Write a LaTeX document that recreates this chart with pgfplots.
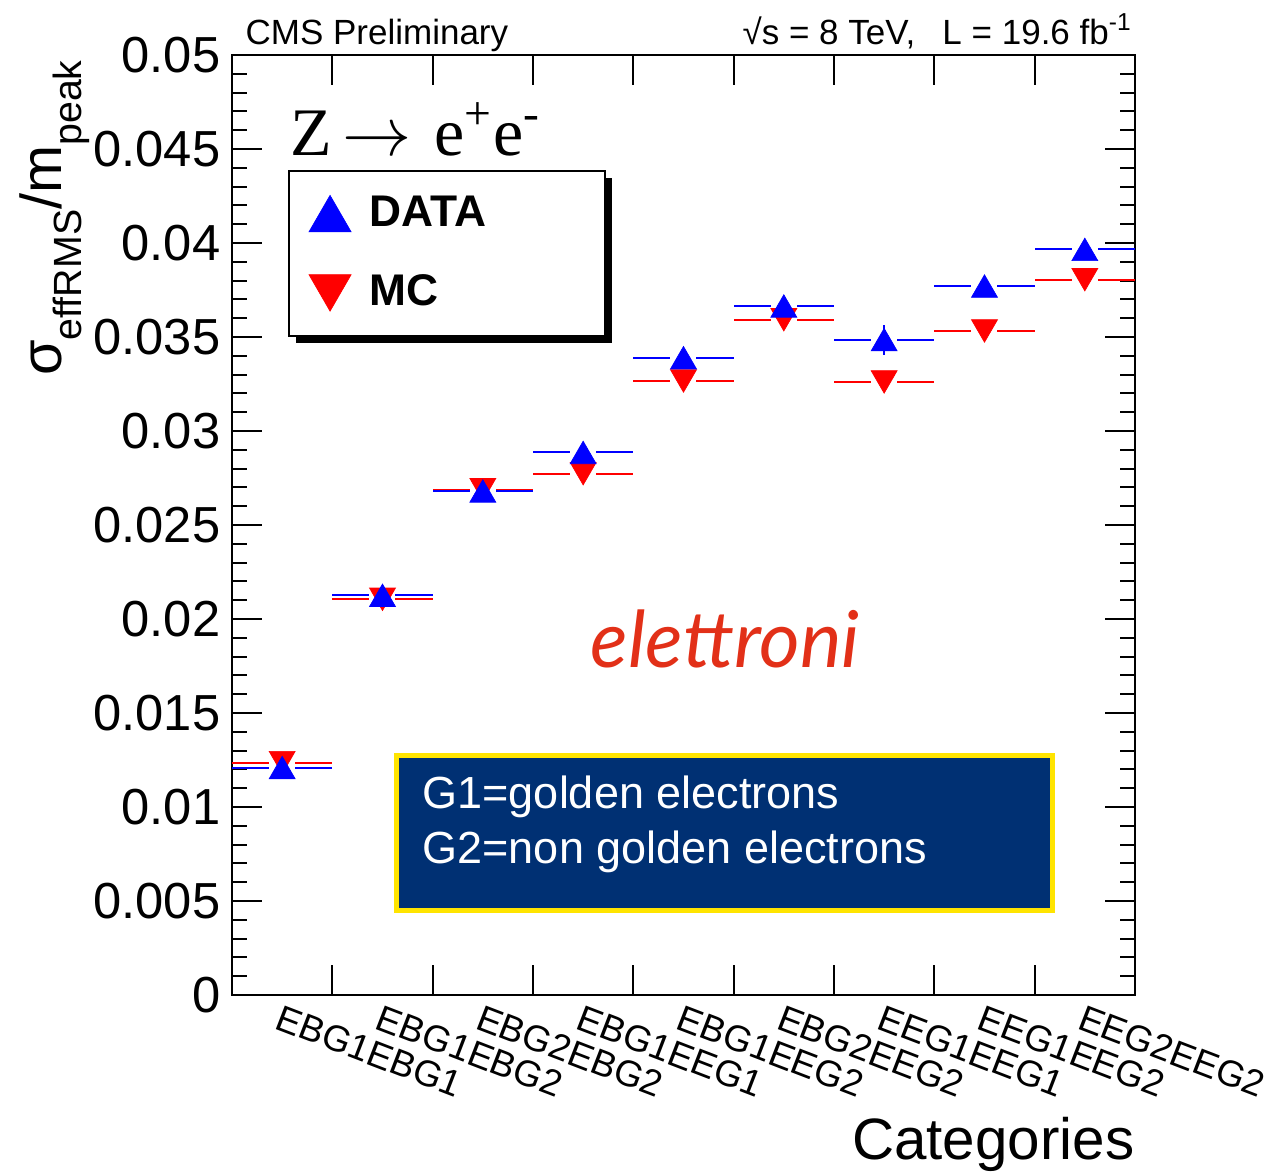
\documentclass[border=0pt]{standalone}
\usepackage{pgfplots}
\pgfplotsset{compat=1.18}
\usepackage{pgfplotstable}
\usetikzlibrary{shadows}
\usepackage{fontspec}
\setmainfont{Liberation Sans}
\newfontfamily\seriffont{Liberation Serif}
\newfontfamily\elfont{Lato}
\definecolor{navybox}{RGB}{0,48,115}
\definecolor{yellowbox}{RGB}{255,228,0}
\definecolor{elred}{RGB}{226,48,24}
\definecolor{dblue}{RGB}{0,0,255}
\definecolor{dred}{RGB}{255,0,0}

\pgfplotstableread{
x data dataerr mc mcerr
0 0.01210 0 0.01236 0
1 0.02126 0 0.02105 0
2 0.02681 0 0.02688 0
3 0.02886 0 0.02773 0
4 0.03390 0 0.03266 0
5 0.03665 0 0.03592 0
6 0.03486 0.0008 0.03261 0
7 0.03771 0 0.03532 0
8 0.03966 0 0.03805 0
}\tab

\begin{document}
\begin{tikzpicture}
\useasboundingbox (-69.6pt,-53.4pt) rectangle (310.5pt,298.5pt);
\begin{axis}[
  scale only axis,
  width=270.9pt, height=282pt,
  at={(0,0)}, anchor=south west,
  xmin=-0.5, xmax=8.5, ymin=0, ymax=0.05,
  clip=false,
  axis line style={line width=0.8pt},
  tick style={line width=0.6pt, black},
  major tick length=9pt, minor tick length=4.5pt,
  xtick={0.5,1.5,...,7.5}, xticklabels={},
  extra x ticks={0,1,2,3,4,5,6,7,8},
  extra x tick labels={EBG1EBG1,EBG1EBG2,EBG2EBG2,EBG1EEG1,EBG1EEG2,EBG2EEG2,EEG1EEG1,EEG1EEG2,EEG2EEG2},
  extra x tick style={major tick length=0pt, tick style={draw=none}},
  x tick label style={font=\fontsize{11}{13}\selectfont, yshift=-2.5pt, rotate=-21, anchor=north west, inner sep=0pt},
  ytick={0,0.005,0.01,0.015,0.02,0.025,0.03,0.035,0.04,0.045,0.05},
  minor y tick num=4,
  scaled y ticks=false,
  y tick label style={font=\fontsize{15.2}{18}\selectfont, /pgf/number format/.cd, fixed, precision=3, assume math mode=true},
  xlabel={Categories},
  xlabel style={at={(axis description cs:1,-0.1755)}, anchor=base east, inner sep=0pt, font=\fontsize{17.5}{20}\selectfont},
  ylabel={σ\raisebox{-0.35em}{\fontsize{11.8}{13}\selectfont effRMS}/m\raisebox{-0.35em}{\fontsize{11.8}{13}\selectfont peak}},
  ylabel style={at={(axis description cs:-0.196,0.995)}, anchor=east, inner sep=0pt, font=\fontsize{17.3}{20}\selectfont},
  legend image code/.code={\draw[#1, mark size=7.3pt, mark repeat=2, mark phase=2] plot coordinates {(0pt,0pt) (10pt,0pt) (20pt,0pt)};},
  legend style={at={(rel axis cs:0.062,0.8777)}, anchor=north west, draw=black, line width=0.6pt, fill=white,
    drop shadow={shadow xshift=2.1pt, shadow yshift=-2.1pt, fill=black, opacity=1},
    font=\bfseries\fontsize{13.3}{15}\selectfont, row sep=9pt, inner xsep=6pt, inner ysep=5.5pt},
  legend cell align=left,
]
% legend entries
\addlegendimage{only marks, mark=triangle*, mark options={fill=dblue, draw=dblue, line width=0.2pt, yshift=-1.8pt}}
\addlegendentry{\hspace{3.5pt}\makebox[62.6pt][l]{DATA}}
\addlegendimage{only marks, mark=triangle*, mark options={fill=dred, draw=dred, line width=0.2pt, rotate=180, yshift=-1.8pt}}
\addlegendentry{\hspace{3.5pt}\makebox[62.6pt][l]{MC}}

% horizontal bin lines
\addplot[forget plot, draw=none, mark=none,
  error bars/.cd, x dir=both, x fixed=0.5, y dir=both, y explicit,
  error bar style={draw=dred, line width=0.6pt}, error mark=none]
  table[x=x, y=mc, y error=mcerr]{\tab};
\addplot[forget plot, draw=none, mark=none,
  error bars/.cd, x dir=both, x fixed=0.5, y dir=both, y explicit,
  error bar style={draw=dblue, line width=0.6pt}, error mark=none]
  table[x=x, y=data, y error=dataerr]{\tab};
% gaps around markers
\addplot[forget plot, only marks, mark=-, mark size=3.9pt, mark options={draw=white, line width=1.5pt}]
  table[x=x, y=mc]{\tab};
\addplot[forget plot, only marks, mark=-, mark size=3.9pt, mark options={draw=white, line width=1.5pt}]
  table[x=x, y=data]{\tab};
% vertical error of data (redraw over gap)
\addplot[forget plot, draw=none, mark=none,
  error bars/.cd, y dir=both, y explicit,
  error bar style={draw=dblue, line width=0.6pt}, error mark=none]
  table[x=x, y=data, y error=dataerr]{\tab};
% markers
\addplot[forget plot, only marks, mark=triangle*, mark size=4.5pt,
  mark options={fill=dred, draw=dred, line width=0.2pt, rotate=180, yshift=-1.125pt}]
  table[x=x, y=mc]{\tab};
\addplot[forget plot, only marks, mark=triangle*, mark size=4.5pt,
  mark options={fill=dblue, draw=dblue, line width=0.2pt, yshift=-1.125pt}]
  table[x=x, y=data]{\tab};

% annotations
\node[anchor=base west, inner sep=0pt, font=\fontsize{10.5}{12}\selectfont] at (rel axis cs:0.0144,1.0117) {CMS Preliminary};
\node[anchor=base east, inner sep=0pt, font=\fontsize{10.5}{12}\selectfont] at (rel axis cs:0.9978,1.0117) {√s = 8 TeV,\hspace{0.5em} L = 19.6 fb\textsuperscript{-1}};
\node[anchor=base west, inner sep=0pt, font=\seriffont\fontsize{20.4}{24}\selectfont] at (rel axis cs:0.0642,0.8936) {Z\hspace{0.15em}$\rightarrow$\hspace{0.34em}e\textsuperscript{+}e\textsuperscript{-}};
\node[anchor=base west, inner sep=0pt, text=elred, font=\elfont\itshape\fontsize{23.5}{27}\selectfont] at (rel axis cs:0.3965,0.3489) {elettroni};
\draw[draw=yellowbox, line width=1.5pt, fill=navybox] (rel axis cs:0.1827,0.0904) rectangle (rel axis cs:0.9092,0.2553);
\node[anchor=base west, inner sep=0pt, text=white, font=\fontsize{13.5}{16}\selectfont] at (rel axis cs:0.2104,0.1989) {G1=golden electrons};
\node[anchor=base west, inner sep=0pt, text=white, font=\fontsize{13.5}{16}\selectfont] at (rel axis cs:0.2104,0.1394) {G2=non golden electrons};
\end{axis}
\end{tikzpicture}
\end{document}
